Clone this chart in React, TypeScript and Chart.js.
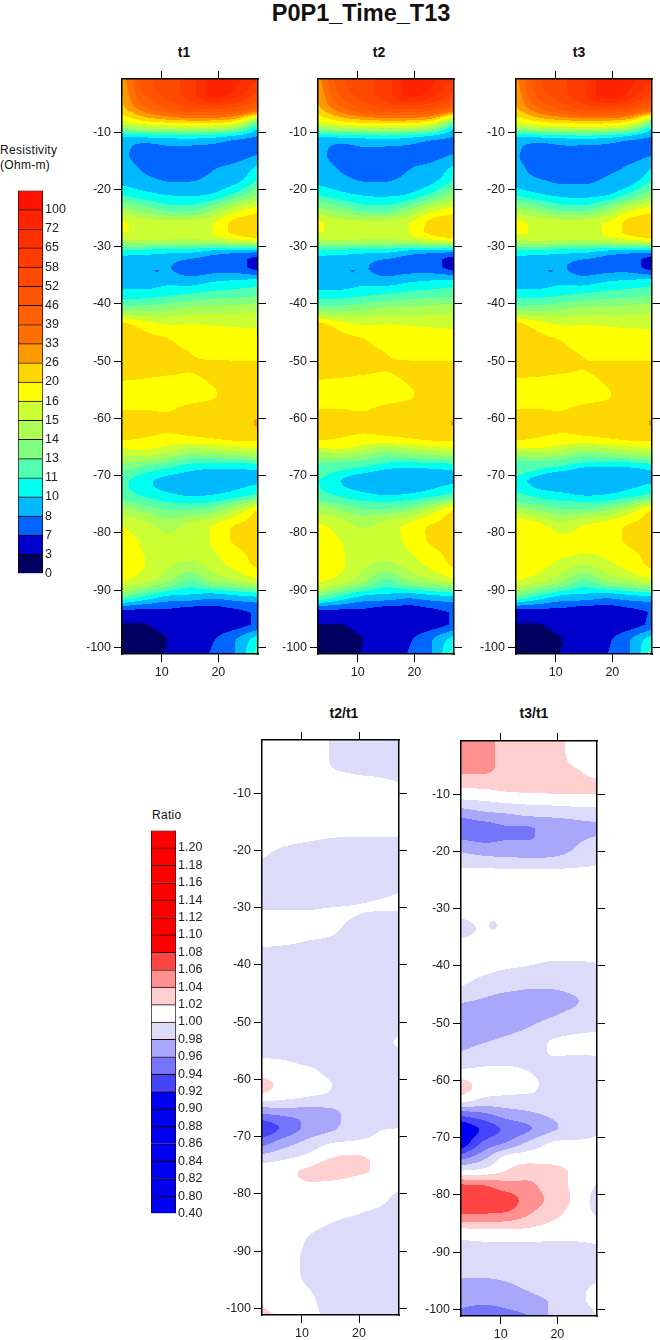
import React, { useEffect, useRef } from "react";
import { Chart, registerables } from "chart.js";

Chart.register(...registerables);

// ---- data ----
const xColumns = [3, 7, 11, 15, 19, 23, 27];
const depths = [-1, -3.5, -6, -8.5, -11, -13.5, -16, -18.5, -21, -23.5, -26, -28.5, -31, -33.5, -36, -38.5, -41, -43.5, -46, -48.5, -51, -53.5, -56, -58.5, -61, -63.5, -66, -68.5, -71, -73.5, -76, -78.5, -81, -83.5, -86, -88.5, -91, -93.5, -96, -98.5, -101];
const ratioDepths = [-1, -3.5, -6, -8.5, -11, -13.5, -16, -18.5, -21, -23.5, -26, -28.5, -30, -31, -33.5, -36, -38.5, -41, -43.5, -46, -48.5, -51, -53.5, -56, -58.5, -61, -63.5, -66, -68.5, -71, -73.5, -76, -78.5, -81, -83.5, -86, -88.5, -91, -93.5, -96, -98.5, -101];

const resistivityLevels = [0, 3, 7, 8, 10, 11, 13, 14, 15, 16, 20, 26, 33, 39, 46, 52, 58, 65, 72, 100];
const resistivityLabels = ["0", "3", "7", "8", "10", "11", "13", "14", "15", "16", "20", "26", "33", "39", "46", "52", "58", "65", "72", "100", ""];
const resistivityColors = ["#000060", "#0000cc", "#0064ff", "#00b9ff", "#00ffee", "#50ffb0", "#80ff80", "#aaff55", "#ccff33", "#ffff00", "#ffd700", "#ff9900", "#ff7000", "#ff6000", "#ff5500", "#ff4800", "#ff3c00", "#ff3000", "#ff2400", "#ff1000"];

const ratioLabels = ["0.40", "0.80", "0.82", "0.84", "0.86", "0.88", "0.90", "0.92", "0.94", "0.96", "0.98", "1.00", "1.02", "1.04", "1.06", "1.08", "1.10", "1.12", "1.14", "1.16", "1.18", "1.20", ""];
const ratioColors = ["#0000f0", "#0000f0", "#0000f0", "#0000f0", "#0000f0", "#0000f0", "#0000f0", "#4444fa", "#7575fa", "#a8a8fa", "#dcdcfa", "#ffffff", "#ffd0d0", "#ff9090", "#ff4444", "#ff0000", "#ff0000", "#ff0000", "#ff0000", "#ff0000", "#ff0000", "#ff0000"];

// Small closed contours too tight for the grid: [x, depth, x radius, depth radius]
const t1SmallBlueSpot = [9.1, -34.2, 0.5, 0.17];
const t3RatioSmallSpot = [8.65, -32.9, 0.65, 0.8];

// t1, as positions on the resistivity colour bar (the bar is not linear in Ohm-m)
const t1BarPosition = [
  [11.5, 14.5, 15.5, 16.5, 18.5, 18.2, 17],
  [11.0, 14.0, 15.3, 16.5, 18.3, 17.5, 15.5],
  [10.6, 12.5, 13.8, 14.8, 15, 14.5, 13],
  [8.3, 9.3, 9.7, 9.9, 9.8, 9.0, 5.5],
  [3.8, 3.9, 4.1, 4.2, 4.0, 3.4, 2.8],
  [3.3, 2.5, 2.7, 2.6, 2.6, 2.5, 2.85],
  [3.5, 2.8, 2.6, 2.5, 2.9, 3.2, 4.1],
  [3.7, 3.3, 2.95, 2.95, 3.3, 3.7, 5.1],
  [5.0, 4.4, 4.0, 3.9, 4.2, 5.4, 7.1],
  [7.3, 6.5, 5.7, 5.6, 6.8, 8.5, 9.5],
  [9.2, 8.6, 8.5, 8.5, 9.0, 10.4, 10.9],
  [8.3, 8.4, 8.3, 8.2, 8.6, 9.4, 10.1],
  [4.5, 4.4, 4.2, 4.1, 3.5, 3.2, 3.0],
  [3.3, 3.2, 3.1, 2.4, 2.5, 2.4, 1.5],
  [3.4, 3.4, 3.7, 3.5, 3.9, 4.1, 4.3],
  [4.6, 4.6, 4.9, 5.2, 5.5, 5.7, 5.9],
  [6.6, 6.7, 7.0, 7.4, 7.5, 7.6, 7.8],
  [10.3, 9.4, 8.9, 9.0, 8.9, 8.8, 8.7],
  [10.7, 10.3, 10, 9.5, 9.5, 9.5, 9.5],
  [10.6, 10.5, 10.3, 10.0, 9.6, 9.6, 9.6],
  [10.5, 10.5, 10.3, 10.1, 10.3, 10.3, 10.3],
  [10.0, 9.9, 9.8, 9.8, 10.1, 10.5, 10.6],
  [9.6, 9.6, 9.6, 9.7, 9.9, 10.5, 10.6],
  [10.0, 10.0, 9.95, 10.2, 10.4, 10.6, 10.7],
  [10.5, 10.4, 10.2, 10.2, 10.4, 10.6, 11.1],
  [10.2, 9.95, 9.7, 9.8, 10.0, 10.3, 10.3],
  [8.4, 8.6, 8.0, 7.1, 7.3, 7.6, 8.1],
  [6.6, 5.8, 5.2, 4.5, 4.2, 4.2, 4.4],
  [5.3, 4.3, 3.6, 3.4, 3.4, 3.7, 3.9],
  [5.6, 4.9, 4.3, 3.95, 4.1, 4.6, 5.4],
  [7.5, 6.7, 6.0, 6.0, 6.5, 8.0, 10.0],
  [8.9, 8.3, 7.5, 8.2, 8.9, 9.95, 10.4],
  [9.3, 8.8, 8.2, 8.5, 9.1, 10.2, 10.5],
  [9.5, 8.95, 8.4, 8.4, 8.9, 9.7, 10.4],
  [9.4, 9.0, 8.1, 7.5, 8.3, 9.2, 10.1],
  [9.0, 8.2, 7.1, 5.8, 7.0, 7.6, 8.6],
  [6.3, 5.0, 4.0, 3.8, 3.5, 3.9, 4.2],
  [1.9, 1.9, 1.9, 1.6, 1.6, 1.9, 2.3],
  [0.95, 0.97, 1.5, 1.4, 1.4, 1.6, 2.2],
  [0.3, 0.4, 1.0, 1.5, 1.9, 2.9, 4.5],
  [0.3, 0.4, 1.1, 1.7, 2.1, 3.0, 5.5],
];

const t2OverT1 = [
  [1.018, 1.018, 1.018, 0.999, 0.995, 0.995, 0.995],
  [1.018, 1.018, 1.018, 0.999, 0.995, 0.995, 0.995],
  [1.012, 1.012, 1.012, 1.0015, 0.998, 0.997, 0.996],
  [1.012, 1.012, 1.012, 1.01, 1.006, 1.004, 1.001],
  [1.01, 1.01, 1.01, 1.01, 1.01, 1.01, 1.01],
  [1.008, 1.008, 1.008, 1.008, 1.008, 1.008, 1.008],
  [1.01, 1.007, 1.005, 1.003, 1.003, 1.003, 1.003],
  [1.006, 1.002, 1.0, 0.999, 0.9985, 0.9985, 0.9985],
  [1.001, 0.996, 0.995, 0.995, 0.995, 0.995, 0.995],
  [0.995, 0.995, 0.995, 0.995, 0.995, 0.995, 0.995],
  [0.995, 0.995, 0.995, 0.995, 0.995, 0.995, 0.998],
  [0.997, 0.997, 0.997, 0.997, 0.997, 0.9995, 1.002],
  [0.9985, 0.9985, 0.9985, 1.0, 1.001, 1.003, 1.006],
  [1.0015, 1.0015, 1.0015, 1.004, 1.001, 0.9985, 0.996],
  [1.006, 1.006, 1.005, 1.003, 0.997, 0.996, 0.995],
  [1.002, 1.0015, 0.9995, 0.998, 0.995, 0.995, 0.995],
  [0.997, 0.995, 0.995, 0.995, 0.995, 0.995, 0.995],
  [0.995, 0.995, 0.995, 0.995, 0.995, 0.995, 0.995],
  [0.995, 0.995, 0.995, 0.995, 0.995, 0.995, 0.995],
  [0.995, 0.995, 0.995, 0.995, 0.995, 0.995, 0.995],
  [0.995, 0.995, 0.995, 0.995, 0.995, 0.995, 0.995],
  [0.992, 0.992, 0.992, 0.992, 0.992, 0.992, 0.992],
  [0.992, 0.992, 0.992, 0.992, 0.992, 0.992, 1.003],
  [0.9995, 0.998, 0.993, 0.992, 0.992, 0.992, 0.992],
  [1.006, 1.006, 1.003, 0.996, 0.992, 0.992, 0.992],
  [1.03, 1.012, 1.006, 1.0005, 0.992, 0.992, 0.992],
  [1.005, 1.0005, 0.997, 0.995, 0.992, 0.992, 0.992],
  [0.96, 0.965, 0.968, 0.972, 0.99, 0.992, 0.992],
  [0.925, 0.945, 0.965, 0.975, 0.992, 0.9985, 1.0],
  [0.95, 0.97, 0.985, 0.9985, 1.0015, 1.003, 1.004],
  [0.985, 0.995, 1.004, 1.018, 1.022, 1.016, 1.008],
  [1.012, 1.016, 1.023, 1.03, 1.024, 1.018, 1.006],
  [1.012, 1.012, 1.018, 1.015, 1.012, 1.01, 1.003],
  [1.01, 1.01, 1.01, 1.01, 1.008, 1.005, 0.995],
  [1.01, 1.01, 1.008, 1.004, 1.001, 0.997, 0.993],
  [1.01, 1.01, 1.003, 0.998, 0.994, 0.993, 0.993],
  [1.01, 1.01, 0.9985, 0.992, 0.992, 0.992, 0.992],
  [1.01, 1.006, 0.997, 0.992, 0.992, 0.992, 0.992],
  [1.01, 1.006, 0.997, 0.992, 0.992, 0.992, 0.992],
  [1.01, 1.006, 0.9995, 0.992, 0.992, 0.992, 0.992],
  [1.015, 1.01, 1.004, 0.993, 0.992, 0.992, 0.992],
  [1.025, 1.015, 1.006, 0.996, 0.993, 0.993, 0.993],
];

const t3OverT1 = [
  [1.05, 1.05, 1.03, 1.03, 1.035, 1.01, 1.01],
  [1.05, 1.05, 1.03, 1.03, 1.035, 1.012, 1.01],
  [1.043, 1.043, 1.034, 1.03, 1.03, 1.023, 1.01],
  [1.024, 1.025, 1.028, 1.03, 1.03, 1.028, 1.027],
  [0.999, 1.002, 1.006, 1.008, 1.01, 1.012, 1.012],
  [0.967, 0.975, 0.979, 0.984, 0.985, 0.987, 0.99],
  [0.945, 0.95, 0.958, 0.958, 0.968, 0.973, 0.976],
  [0.965, 0.96, 0.962, 0.962, 0.97, 0.978, 0.986],
  [0.987, 0.982, 0.98, 0.979, 0.98, 0.985, 0.992],
  [1.003, 1.004, 1.003, 1.003, 1.003, 1.004, 1.005],
  [1.01, 1.01, 1.01, 1.01, 1.01, 1.01, 1.01],
  [1.01, 1.01, 1.01, 1.01, 1.01, 1.01, 1.01],
  [1.01, 1.01, 1.01, 1.01, 1.01, 1.01, 1.01],
  [1.004, 1.008, 1.008, 1.008, 1.008, 1.008, 1.008],
  [0.992, 1.003, 1.004, 1.006, 1.008, 1.008, 1.008],
  [1.004, 1.006, 1.006, 1.006, 1.006, 1.006, 1.006],
  [1.01, 1.008, 1.006, 1.004, 1.002, 1.002, 1.002],
  [1.006, 1.002, 0.9985, 0.996, 0.993, 0.993, 0.997],
  [1.0005, 0.993, 0.988, 0.983, 0.983, 0.988, 0.994],
  [0.983, 0.978, 0.97, 0.97, 0.97, 0.978, 0.99],
  [0.97, 0.968, 0.965, 0.972, 0.978, 0.985, 0.99],
  [0.968, 0.97, 0.975, 0.981, 0.99, 0.995, 0.998],
  [0.975, 0.98, 0.985, 0.99, 1.002, 1.006, 1.008],
  [0.985, 0.99, 0.992, 0.993, 0.9995, 0.9985, 0.999],
  [1.004, 1.005, 1.005, 1.0, 0.993, 0.993, 0.993],
  [1.03, 1.012, 1.008, 1.006, 0.992, 0.993, 0.993],
  [1.008, 0.995, 0.993, 0.992, 0.992, 0.992, 0.992],
  [0.945, 0.955, 0.968, 0.976, 0.983, 0.992, 0.992],
  [0.9, 0.925, 0.945, 0.958, 0.977, 0.985, 0.997],
  [0.905, 0.945, 0.962, 0.985, 1.002, 1.004, 1.004],
  [0.952, 0.975, 1.006, 1.012, 1.01, 1.01, 1.008],
  [1.005, 1.01, 1.022, 1.03, 1.03, 1.016, 1.008],
  [1.065, 1.062, 1.05, 1.045, 1.03, 1.016, 0.998],
  [1.07, 1.07, 1.07, 1.05, 1.035, 1.016, 0.992],
  [1.058, 1.058, 1.055, 1.04, 1.026, 1.012, 0.9985],
  [1.018, 1.02, 1.02, 1.018, 1.012, 1.008, 1.006],
  [0.996, 0.998, 0.9985, 0.9985, 0.998, 0.9985, 1.0005],
  [0.99, 0.99, 0.99, 0.99, 0.99, 0.99, 0.99],
  [0.985, 0.985, 0.985, 0.985, 0.985, 0.985, 0.985],
  [0.972, 0.972, 0.977, 0.983, 0.99, 0.992, 1.004],
  [0.965, 0.963, 0.966, 0.973, 0.982, 0.994, 1.006],
  [0.955, 0.952, 0.955, 0.961, 0.982, 0.982, 1.001],
];

// ---- helpers: the contouring a gridding program would do between the nodes ----
function cubic(vals: number[], pos: number[], i: number, t: number) {
  const n = vals.length;
  const p1 = vals[i], p2 = vals[i + 1];
  const h = pos[i + 1] - pos[i];
  const m1 = i > 0 ? ((p2 - vals[i - 1]) / (pos[i + 1] - pos[i - 1])) * h : p2 - p1;
  const m2 = i + 2 < n ? ((vals[i + 2] - p1) / (pos[i + 2] - pos[i])) * h : p2 - p1;
  const t2 = t * t, t3 = t2 * t;
  const v = (2 * t3 - 3 * t2 + 1) * p1 + (t3 - 2 * t2 + t) * m1 + (-2 * t3 + 3 * t2) * p2 + (t3 - t2) * m2;
  return Math.min(Math.max(p1, p2), Math.max(Math.min(p1, p2), v));
}
function sampleGrid(grid: number[][], rows: number[], x: number, d: number) {
  let i = 0;
  while (i < rows.length - 2 && d < rows[i + 1]) i++;
  let j = 0;
  while (j < xColumns.length - 2 && x > xColumns[j + 1]) j++;
  const fy = Math.min(1, Math.max(0, (rows[i] - d) / (rows[i] - rows[i + 1])));
  const fx = Math.min(1, Math.max(0, (x - xColumns[j]) / (xColumns[j + 1] - xColumns[j])));
  const col: number[] = new Array(rows.length);
  for (let r = Math.max(0, i - 1); r <= Math.min(rows.length - 1, i + 2); r++) col[r] = cubic(grid[r], xColumns, j, fx);
  return cubic(col, rows, i, fy);
}
function positionToOhm(p: number) {
  const k = Math.min(resistivityLevels.length - 2, Math.max(0, Math.floor(p)));
  return resistivityLevels[k] + (p - k) * (resistivityLevels[k + 1] - resistivityLevels[k]);
}
function ohmToPosition(v: number) {
  let k = 0;
  while (k < resistivityLevels.length - 2 && v > resistivityLevels[k + 1]) k++;
  return k + (v - resistivityLevels[k]) / (resistivityLevels[k + 1] - resistivityLevels[k]);
}
const inSpot = (s: number[], x: number, d: number) => ((x - s[0]) / s[2]) ** 2 + ((d - s[1]) / s[3]) ** 2 < 1;
const resistivityColor = (ratioGrid: number[][] | null) => (x: number, d: number) => {
  if (inSpot(t1SmallBlueSpot, x, d)) return resistivityColors[2];
  let p = sampleGrid(t1BarPosition, depths, x, d);
  if (ratioGrid) p = ohmToPosition(positionToOhm(p) * sampleGrid(ratioGrid, ratioDepths, x, d));
  return resistivityColors[Math.max(0, Math.min(resistivityColors.length - 1, Math.floor(p)))];
};
const ratioColor = (ratioGrid: number[][], spot: number[] | null) => (x: number, d: number) => {
  if (spot && inSpot(spot, x, d)) return ratioColors[10];
  const r = sampleGrid(ratioGrid, ratioDepths, x, d);
  const band = r < 0.8 ? 0 : 1 + Math.floor((r - 0.8) / 0.02 + 1e-9);
  return ratioColors[Math.min(ratioColors.length - 1, band)];
};

const makeContourPlugin = (colorAt: (x: number, d: number) => string) => ({
  id: "contour",
  beforeDraw(chart: any) {
    const { ctx, chartArea: a, scales } = chart;
    const sx = scales.x, sy = scales.y;
    ctx.save();
    const x0 = Math.floor(a.left), x1 = Math.ceil(a.right);
    for (let py = Math.floor(a.top); py < Math.ceil(a.bottom); py++) {
      const d = sy.getValueForPixel(py + 0.5);
      let runStart = x0;
      let last: string | null = colorAt(sx.getValueForPixel(runStart + 0.5), d);
      for (let px = x0 + 1; px <= x1; px++) {
        const c = px < x1 ? colorAt(sx.getValueForPixel(px + 0.5), d) : null;
        if (c !== last) {
          ctx.fillStyle = last;
          ctx.fillRect(runStart, py, px - runStart, 1);
          runStart = px;
          last = c;
        }
      }
    }
    ctx.restore();
  },
});

const FONT = "'Liberation Sans', Arial, sans-serif";
const LEFT = 46, RIGHT = 14, TOP = 12, BOTTOM = 26;

function axis(position: string, showLabels: boolean, size: number, horizontal: boolean, min: number, max: number) {
  return {
    type: "linear",
    position,
    axis: horizontal ? "x" : "y",
    min,
    max,
    afterFit(s: any) {
      if (horizontal) s.height = size;
      else s.width = size;
    },
    border: { display: true, color: "#000", width: 1.5 },
    grid: { drawOnChartArea: false, drawTicks: true, tickLength: 8, tickWidth: 1, tickColor: "#000" },
    ticks: {
      display: showLabels,
      stepSize: 10,
      includeBounds: false,
      autoSkip: false,
      maxRotation: 0,
      padding: 3,
      color: "#222",
      font: { family: FONT, size: 12.5 },
    },
  };
}

function Panel({ left, right, top, bottom, colorAt }: any) {
  const ref = useRef<HTMLCanvasElement>(null);
  useEffect(() => {
    const nodes: any[] = [];
    depths.forEach((d) => xColumns.forEach((x) => nodes.push({ x, y: d })));
    const chart = new Chart(ref.current as any, {
      type: "scatter",
      data: { datasets: [{ data: nodes, pointRadius: 0, showLine: false, xAxisID: "x", yAxisID: "y" }] },
      options: {
        animation: false,
        responsive: false,
        layout: { padding: 0 },
        plugins: { legend: { display: false }, tooltip: { enabled: false } } as any,
        scales: {
          x: axis("bottom", true, BOTTOM, true, 3, 27),
          x2: axis("top", false, TOP, true, 3, 27),
          y: axis("left", true, LEFT, false, -101.17, -0.73),
          y2: axis("right", false, RIGHT, false, -101.17, -0.73),
        } as any,
      },
      plugins: [makeContourPlugin(colorAt)],
    } as any);
    return () => chart.destroy();
  }, []);
  return (
    <canvas
      ref={ref}
      width={right - left + LEFT + RIGHT}
      height={bottom - top + TOP + BOTTOM}
      style={{ position: "absolute", left: left - LEFT, top: top - TOP, width: right - left + LEFT + RIGHT, height: bottom - top + TOP + BOTTOM }}
    />
  );
}

function ColorBar({ left, top, bottom, labels, colors }: any) {
  const ref = useRef<HTMLCanvasElement>(null);
  const barW = 25, labelW = 36, padL = 2, padV = 8;
  const n = colors.length;
  useEffect(() => {
    const chart = new Chart(ref.current as any, {
      type: "bar",
      data: {
        labels: ["band"],
        datasets: colors.map((c: string) => ({
          data: [1],
          backgroundColor: c,
          borderColor: "#200",
          borderWidth: 1,
          barPercentage: 1,
          categoryPercentage: 1,
        })),
      },
      options: {
        animation: false,
        responsive: false,
        layout: { padding: { left: padL, top: padV, bottom: padV, right: 0 } },
        plugins: { legend: { display: false }, tooltip: { enabled: false } },
        scales: {
          x: { stacked: true, display: false },
          y: {
            stacked: true,
            position: "right",
            min: 0,
            max: n,
            afterFit(s: any) {
              s.width = labelW;
            },
            border: { display: false },
            grid: { display: false, drawTicks: false },
            ticks: {
              stepSize: 1,
              autoSkip: false,
              padding: 2,
              color: "#222",
              font: { family: FONT, size: 12.5 },
              callback: (v: any) => labels[v] ?? "",
            },
          },
        } as any,
      },
    } as any);
    return () => chart.destroy();
  }, []);
  const w = padL + barW + labelW;
  const h = bottom - top + padV * 2;
  return <canvas ref={ref} width={w} height={h} style={{ position: "absolute", left: left - padL, top: top - padV, width: w, height: h }} />;
}

function Text({ x, y, size, bold, children, center, spacing }: any) {
  return (
    <div
      style={{
        position: "absolute",
        left: x,
        top: y,
        transform: center ? "translate(-50%, -50%)" : "translateY(-50%)",
        fontFamily: FONT,
        fontSize: size,
        fontWeight: bold ? 700 : 400,
        color: "#111",
        whiteSpace: "nowrap",
        lineHeight: 1,
        letterSpacing: spacing || 0,
      }}
    >
      {children}
    </div>
  );
}

export default function App() {
  return (
    <div style={{ position: "absolute", left: 0, top: 0, width: 660, height: 1340, background: "#fff", overflow: "hidden" }}>
      <Text x={361} y={14} size={23.5} bold center>P0P1_Time_T13</Text>
      <Text x={184} y={52} size={14} bold center>t1</Text>
      <Text x={379} y={52} size={14} bold center>t2</Text>
      <Text x={579} y={52} size={14} bold center>t3</Text>
      <Text x={344} y={713} size={14} bold center>t2/t1</Text>
      <Text x={534} y={713} size={14} bold center>t3/t1</Text>
      <Text x={0} y={150} size={12} spacing={0.3}>Resistivity</Text>
      <Text x={0} y={165} size={12} spacing={0.3}>(Ohm-m)</Text>
      <Text x={152} y={815} size={12} spacing={0.3}>Ratio</Text>

      <ColorBar left={18} top={189} bottom={575} labels={resistivityLabels} colors={resistivityColors} />
      <ColorBar left={151} top={829} bottom={1215} labels={ratioLabels} colors={ratioColors} />

      <Panel left={122} right={258} top={79} bottom={654} colorAt={resistivityColor(null)} />
      <Panel left={318} right={454} top={79} bottom={654} colorAt={resistivityColor(t2OverT1)} />
      <Panel left={516} right={652} top={79} bottom={654} colorAt={resistivityColor(t3OverT1)} />
      <Panel left={262} right={399} top={740} bottom={1315} colorAt={ratioColor(t2OverT1, null)} />
      <Panel left={461} right={597} top={741} bottom={1316} colorAt={ratioColor(t3OverT1, t3RatioSmallSpot)} />
    </div>
  );
}
